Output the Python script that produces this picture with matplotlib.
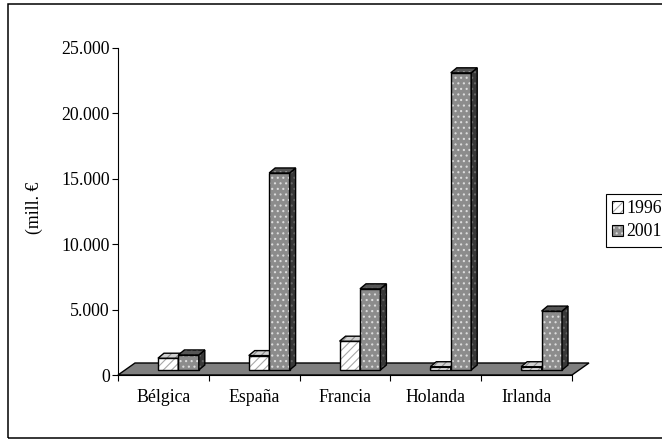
import matplotlib
matplotlib.use("Agg")
import matplotlib.pyplot as plt
from matplotlib import font_manager
from matplotlib.patches import Polygon, Rectangle, Patch
from matplotlib.ticker import FixedLocator, FuncFormatter

# ---- data -------------------------------------------------------------
categories = ["Bélgica", "España", "Francia", "Holanda", "Irlanda"]
series_names = ["1996", "2001"]
values_1996 = [900, 1100, 2200, 250, 250]
values_2001 = [1150, 15050, 6200, 22700, 4500]
y_ticks = [0, 5000, 10000, 15000, 20000, 25000]
y_label = "(mill. €"

# pick a Times-like serif face
serif = "DejaVu Serif"
for cand in ["Liberation Serif", "Times New Roman", "Tinos", "Nimbus Roman",
             "TeX Gyre Termes", "FreeSerif"]:
    try:
        font_manager.findfont(font_manager.FontProperties(family=cand),
                              fallback_to_default=False)
        serif = cand
        break
    except Exception:
        continue

plt.rcParams["font.family"] = [serif, "DejaVu Serif"]
plt.rcParams["hatch.linewidth"] = 0.8
FS = 12.8

W, H = 662, 440
fig = plt.figure(figsize=(W / 100, H / 100), dpi=100)
fig.patch.set_facecolor("white")

# plot area in pixels
ax_l, ax_r, ax_b, ax_t = 118, 572, 375, 47.7
ax = fig.add_axes([ax_l / W, 1 - ax_b / H, (ax_r - ax_l) / W, (ax_b - ax_t) / H])
n = len(categories)
ymax = y_ticks[-1]
ax.set_xlim(0, n)
ax.set_ylim(0, ymax)
ax.patch.set_visible(False)

px_x = (ax_r - ax_l) / n      # pixels per category
px_y = (ax_b - ax_t) / ymax   # pixels per value unit


def offset(dx_px, dy_px):
    return dx_px / px_x, dy_px / px_y


def face(verts, fc, hc, hatch):
    ax.add_patch(Polygon(verts, closed=True, facecolor=fc, edgecolor=hc,
                         hatch=hatch, linewidth=0, clip_on=False))
    ax.add_patch(Polygon(verts, closed=True, fill=False, edgecolor="black",
                         linewidth=1.0, clip_on=False, joinstyle="miter"))


# ---- floor (value 0 plane) -------------------------------------------
fdx, fdy = offset(17, 12)
face([(0, 0), (n, 0), (n + fdx, fdy), (fdx, fdy)], "#7f7f7f", "#7f7f7f", None)

# ---- 3-D columns ------------------------------------------------------
styles = [
    {"front": ("white", "#a8a8a8", "////"),
     "top": ("#d0d0d0", "#8a8a8a", "////"),
     "side": ("#b0b0b0", "#808080", "////")},
    {"front": ("#8c8c8c", "#dcdcdc", "..."),
     "top": ("#555555", "#9a9a9a", "..."),
     "side": ("#383838", "#666666", "...")},
]
bdx, bdy = offset(6, 5)        # column depth
_, base = offset(0, 5)         # columns stand inside the floor
bar_w = 0.225
x_start = 0.44

for i in range(n):
    for s, vals in enumerate([values_1996, values_2001]):
        v = vals[i]
        x0 = i + x_start + s * bar_w
        x1 = x0 + bar_w
        y0, y1 = base, base + v
        st = styles[s]
        face([(x0, y0), (x1, y0), (x1, y1), (x0, y1)], *st["front"])
        face([(x1, y0), (x1 + bdx, y0 + bdy), (x1 + bdx, y1 + bdy), (x1, y1)], *st["side"])
        face([(x0, y1), (x1, y1), (x1 + bdx, y1 + bdy), (x0 + bdx, y1 + bdy)], *st["top"])

# ---- axes -------------------------------------------------------------
for side in ("top", "right"):
    ax.spines[side].set_visible(False)
for side in ("left", "bottom"):
    ax.spines[side].set_linewidth(0.8)
    ax.spines[side].set_zorder(5)

ax.yaxis.set_major_locator(FixedLocator(y_ticks))
ax.yaxis.set_major_formatter(FuncFormatter(lambda v, p: f"{v:,.0f}".replace(",", ".")))
ax.tick_params(axis="y", direction="out", length=4.3, width=0.8, pad=1.5, labelsize=FS)

ax.set_xticks(range(n + 1))
ax.set_xticklabels([])
ax.set_xticks([i + 0.5 for i in range(n)], minor=True)
ax.set_xticklabels(categories, minor=True)
ax.tick_params(axis="x", which="major", direction="out", length=4.3, width=0.8)
ax.tick_params(axis="x", which="minor", length=0, pad=10, labelsize=FS)

fig.text(34 / W, 1 - 208 / H, y_label, rotation=90, ha="center", va="center", fontsize=FS)

# ---- legend -----------------------------------------------------------
handles = []
for st in styles:
    fc, hc, hatch = st["front"]
    handles.append((Patch(facecolor=fc, edgecolor=hc, hatch=hatch, linewidth=0),
                    Patch(fill=False, edgecolor="black", linewidth=0.8)))
leg = fig.legend(handles=handles, labels=series_names, loc="upper left",
                 bbox_to_anchor=(606 / W, 1 - 194 / H), borderaxespad=0,
                 frameon=True, fancybox=False, shadow=False, framealpha=1,
                 edgecolor="black", borderpad=0.35, handlelength=0.6,
                 handleheight=0.6, handletextpad=0.2, labelspacing=0.35,
                 fontsize=FS)
leg.get_frame().set_linewidth(0.8)

# ---- outer chart border ------------------------------------------------
fig.add_artist(Rectangle((7.5 / W, 2 / H), 1.0, (438 - 4) / H,
                         transform=fig.transFigure, fill=False,
                         edgecolor="black", linewidth=1.1))

fig.savefig("out.png", dpi=100)
